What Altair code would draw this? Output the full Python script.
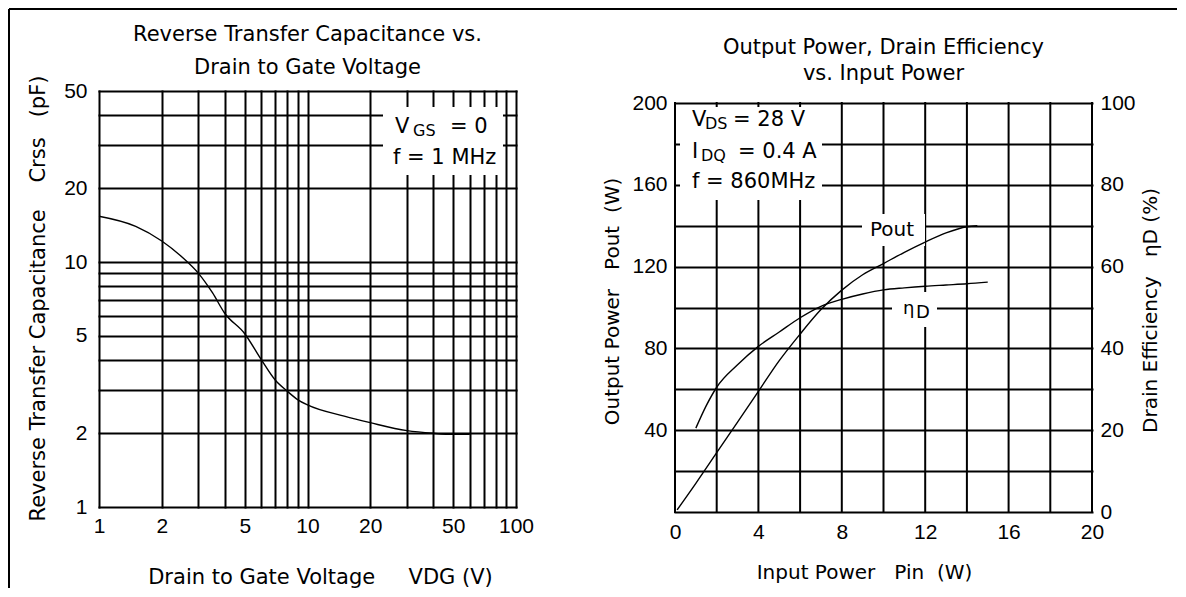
import altair as alt
import pandas as pd

# ---------------- data ----------------
# Left panel: Reverse transfer capacitance vs drain-to-gate voltage
vdg = [1, 1.5, 2, 2.5, 3, 3.5, 4, 5, 6, 7, 8, 9, 10, 15, 20, 30, 40, 50, 60]
crss = [15.4, 14.0, 12.2, 10.5, 9.0, 7.5, 6.2, 5.1, 4.0, 3.3, 2.97, 2.74, 2.61,
        2.35, 2.21, 2.05, 2.0, 1.98, 1.98]
left_x_grid = [1, 2, 3, 4, 5, 6, 7, 8, 9, 10, 20, 30, 40, 50, 60, 70, 80, 90, 100]
left_x_labels = [1, 2, 5, 10, 20, 50, 100]
left_y_grid = [1, 2, 3, 4, 5, 6, 7, 8, 9, 10, 20, 30, 40, 50]
left_y_labels = [1, 2, 5, 10, 20, 50]

# Right panel: output power and drain efficiency vs input power
pin_pout = [0.1, 1.0, 2.0, 3.0, 4.0, 5.0, 6.0, 7.0, 8.0, 9.0, 10.0, 11.0, 12.0, 13.0, 14.0, 14.5]
pout = [1, 14, 29, 44, 59, 74, 87, 99, 108.5, 116, 121.5, 127, 132, 136.5, 139.5, 140]
pin_eff = [1.0, 1.5, 2.0, 3.0, 4.0, 5.0, 6.0, 7.0, 8.0, 9.0, 10.0, 11.0, 12.0, 13.0, 14.0, 15.0]
eff = [20.5, 26, 30.5, 36, 40.5, 44, 47.5, 50.3, 52, 53.3, 54.3, 54.8, 55.2, 55.5, 55.8, 56.2]
right_x_grid = [0, 2, 4, 6, 8, 10, 12, 14, 16, 18, 20]
right_x_labels = [0, 4, 8, 12, 16, 20]
pout_grid = [0, 20, 40, 60, 80, 100, 120, 140, 160, 180, 200]
pout_labels = [40, 80, 120, 160, 200]
eff_labels = [0, 20, 40, 60, 80, 100]

FT = "DejaVu Sans"
FN = "Liberation Sans"
NB = "\u00a0"
ONE = pd.DataFrame({"k": [0]})


def gap(n):
    return NB * n


def txt(s, x, y, size=21, align="left", font=FT):
    return alt.Chart(ONE).mark_text(
        text=s, font=font, fontSize=size, align=align, baseline="middle", color="black"
    ).encode(x=alt.value(x), y=alt.value(y))


def white_box(x, x2, y, y2):
    return alt.Chart(ONE).mark_rect(color="white").encode(
        x=alt.value(x), x2=alt.value(x2), y=alt.value(y), y2=alt.value(y2))


def label_expr(vals):
    return "indexof(%s, datum.value) >= 0 ? datum.label : ''" % str(vals)


# ---------------- left panel ----------------
left_df = pd.DataFrame({"V": vdg, "C": crss})

lx_axis = alt.Axis(
    values=left_x_grid, grid=True, gridColor="black", gridWidth=2, gridOpacity=1,
    gridCap="square", domain=False, ticks=False, labelExpr=label_expr(left_x_labels),
    labelFont=FN, labelFontSize=21, labelColor="black", labelPadding=8,
    labelFlush=False, labelOverlap=False,
    title="Drain to Gate Voltage" + gap(5) + "VDG (V)", titleFont=FT, titleFontSize=21,
    titleFontWeight="normal", titleColor="black", titleX=221, titleY=70,
    titleAlign="center", titleBaseline="middle")
ly_axis = alt.Axis(
    values=left_y_grid, grid=True, gridColor="black", gridWidth=2, gridOpacity=1,
    gridCap="square", domain=False, ticks=False, labelExpr=label_expr(left_y_labels),
    labelFont=FN, labelFontSize=21, labelColor="black", labelPadding=12,
    labelOverlap=False, labelFlush=False,
    title="Reverse Transfer Capacitance" + gap(4) + "Crss" + gap(3) + "(pF)",
    titleFont=FT, titleFontSize=21,
    titleFontWeight="normal", titleColor="black", titleX=-61, titleY=207,
    titleAngle=270, titleAlign="center", titleBaseline="middle")

left_curve = alt.Chart(left_df).mark_line(
    color="black", strokeWidth=1.4, interpolate="monotone"
).encode(
    x=alt.X("V:Q", scale=alt.Scale(type="log", domain=[1, 100]), axis=lx_axis),
    y=alt.Y("C:Q", scale=alt.Scale(type="log", domain=[1, 50]), axis=ly_axis),
)

frame_top = alt.Chart(ONE).mark_rule(color="black", strokeWidth=2).encode(
    x=alt.value(-90), x2=alt.value(1078), y=alt.value(-82))
frame_left = alt.Chart(ONE).mark_rule(color="black", strokeWidth=2).encode(
    x=alt.value(-90), y=alt.value(-82), y2=alt.value(497))

left = alt.layer(
    frame_top, frame_left,
    white_box(284, 404, 16, 84),
    left_curve,
    txt("V", 296, 36), txt("GS", 314, 40, size=16), txt("= 0", 351, 36),
    txt("f = 1 MHz", 294, 67),
    txt("Reverse Transfer Capacitance vs.", 208.5, -56, align="center"),
    txt("Drain to Gate Voltage", 208.5, -23, align="center"),
).properties(width=417, height=416)

# ---------------- right panel ----------------
pout_df = pd.DataFrame({"Pin": pin_pout, "P": pout})
eff_df = pd.DataFrame({"Pin": pin_eff, "E": eff})
vgrid_df = pd.DataFrame({"Pin": right_x_grid})

rx_scale = alt.Scale(domain=[0, 20])
pout_scale = alt.Scale(domain=[0, 200], range=[421, 12])
eff_scale = alt.Scale(domain=[0, 100], range=[421, 12])

rx_axis = alt.Axis(
    values=right_x_labels, grid=False, domain=False, ticks=False,
    labelFont=FN, labelFontSize=21, labelColor="black", labelPadding=9,
    labelFlush=False, labelOverlap=False,
    title="Input Power" + gap(3) + "Pin" + gap(2) + "(W)", titleFont=FT, titleFontSize=20,
    titleFontWeight="normal", titleColor="black", titleX=189, titleY=60,
    titleAlign="center", titleBaseline="middle")
pout_axis = alt.Axis(
    values=pout_grid, grid=True, gridColor="black", gridWidth=2, gridOpacity=1,
    gridCap="square", domain=False, ticks=False, labelExpr=label_expr(pout_labels),
    labelFont=FN, labelFontSize=21, labelColor="black", labelPadding=8,
    labelOverlap=False, labelFlush=False,
    title="Output Power" + gap(3) + "Pout" + gap(2) + "(W)", titleFont=FT, titleFontSize=20,
    titleFontWeight="normal", titleColor="black", titleX=-63, titleY=210,
    titleAngle=270, titleAlign="center", titleBaseline="middle")
eff_axis = alt.Axis(
    orient="right", values=eff_labels, grid=False, domain=False, ticks=False,
    labelFont=FN, labelFontSize=21, labelColor="black", labelPadding=8,
    labelOverlap=False, labelFlush=False,
    title="Drain Efficiency" + gap(3) + "ηD (%)", titleFont=FT, titleFontSize=20,
    titleFontWeight="normal", titleColor="black", titleX=58, titleY=219,
    titleAngle=270, titleAlign="center", titleBaseline="middle")

vrules = alt.Chart(vgrid_df).mark_rule(color="black", strokeWidth=2, strokeCap="square").encode(
    x=alt.X("Pin:Q", scale=rx_scale, axis=rx_axis),
    y=alt.Y(datum=0, scale=pout_scale, axis=pout_axis),
    y2=alt.Y2(datum=200),
)
pout_line = alt.Chart(pout_df).mark_line(
    color="black", strokeWidth=1.4, interpolate="monotone"
).encode(
    x=alt.X("Pin:Q", scale=rx_scale, axis=rx_axis),
    y=alt.Y("P:Q", scale=pout_scale, axis=pout_axis),
)
eff_line = alt.Chart(eff_df).mark_line(
    color="black", strokeWidth=1.4, interpolate="monotone"
).encode(
    x=alt.X("Pin:Q", scale=rx_scale, axis=rx_axis),
    y=alt.Y("E:Q", scale=eff_scale, axis=eff_axis),
)

inner = alt.layer(
    vrules,
    white_box(5, 147, 16, 109),
    white_box(187, 250, 123, 155),
    white_box(217, 262, 201, 236),
    pout_line,
    txt("V", 17, 29), txt("DS", 30, 33, size=16), txt("= 28 V", 58, 29),
    txt("I", 17, 61), txt("DQ", 26, 65, size=16), txt("= 0.4 A", 63, 61),
    txt("f = 860MHz", 17, 91),
    txt("Pout", 217, 139, size=20, align="center"),
    txt("η", 228, 218, size=18), txt("D", 241, 222, size=18),
    txt("Output Power, Drain Efficiency", 208.5, -43, align="center"),
    txt("vs. Input Power", 208.5, -17, align="center"),
)

right = alt.layer(inner, eff_line).resolve_scale(y="independent").properties(
    width=417, height=421)

chart = alt.hconcat(left, right, spacing=159, bounds="flush").properties(
    padding=0, background="white"
).configure_view(strokeOpacity=0)

chart.save("out.html", embed_options={"renderer": "svg", "actions": False})
